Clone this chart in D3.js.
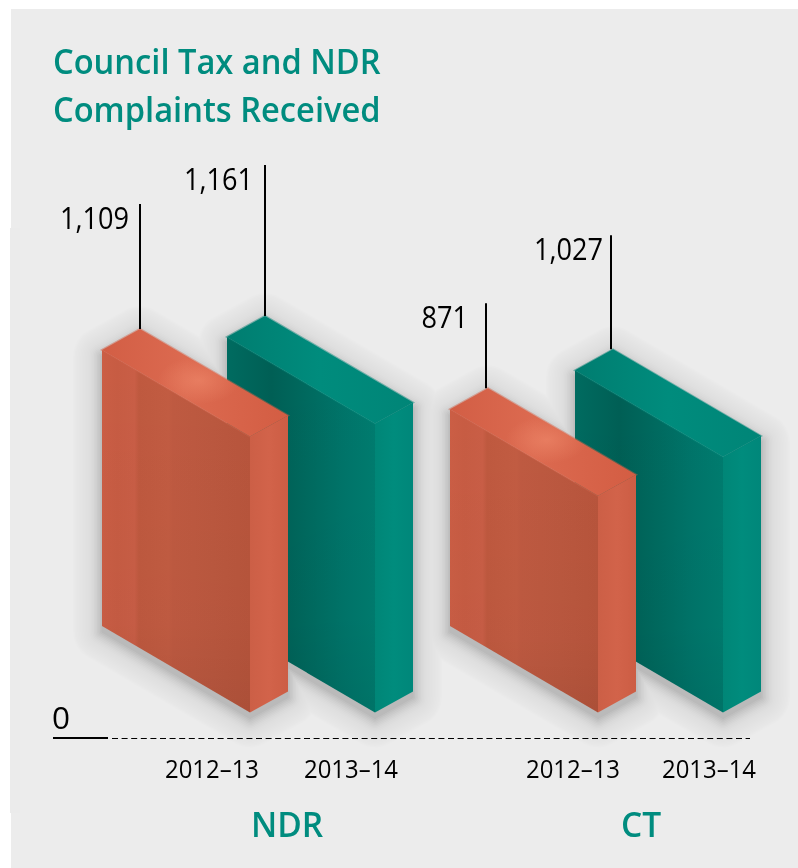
<!DOCTYPE html>
<html>
<head>
<meta charset="utf-8">
<script src="https://cdn.jsdelivr.net/npm/d3@7"></script>
<style>
  html, body { margin: 0; padding: 0; background: #fff; }
  svg { display: block; }
  text { font-family: "Open Sans", "Noto Sans", sans-serif; }
</style>
</head>
<body>
<div id="chart"></div>
<script>
// data
const groups = ["NDR", "CT"];
const years = ["2012–13", "2013–14"];
const ndrValues = [1109, 1161];
const ctValues = [871, 1027];
const titleLines = ["Council Tax and NDR", "Complaints Received"];
// how far the leader line rises above each block
const ndrLeaders = [125, 151];
const ctLeaders = [85, 114];
// gap between a value label and its leader line
const ndrLabelGaps = [11, 12];
const ctLabelGaps = [18, 8];

const width = 798;
const height = 868;
const grey = "#ececec";
const teal = "#008c7f";

const svg = d3.select("#chart")
  .append("svg")
  .attr("width", width)
  .attr("height", height);

// background panel, the picture has a small step on the left side
svg.append("rect").attr("x", 11).attr("y", 9).attr("width", width - 11).attr("height", height - 9).attr("fill", grey);
svg.append("rect").attr("x", 10).attr("y", 228).attr("width", 10).attr("height", 585).attr("fill", "#ebebeb");

// scales
const y = d3.scaleLinear().domain([0, 1161]).range([0, 289]);
const xGroup = d3.scaleOrdinal().domain(groups).range([250, 598]);
const xYear = d3.scaleOrdinal().domain(years).range([0, 125]);
const apexShift = d3.scaleOrdinal().domain(groups).range([0, -2]);
const tickCentre = d3.scaleOrdinal()
  .domain(["NDR2012–13", "NDR2013–14", "CT2012–13", "CT2013–14"])
  .range([212, 351, 573, 709]);
const fmt = d3.format(",");

// iso offsets of the block, from the front bottom corner
const baseY = 712.5;
const rightDX = 38, rightDY = -21;
const leftDX = -148, leftDY = -86.5;

// table built from the arrays
const bars = [];
groups.forEach((g, gi) => {
  const vals = gi === 0 ? ndrValues : ctValues;
  const leaders = gi === 0 ? ndrLeaders : ctLeaders;
  const gaps = gi === 0 ? ndrLabelGaps : ctLabelGaps;
  years.forEach((yr, i) => {
    bars.push({ group: g, year: yr, value: vals[i], leader: leaders[i], gap: gaps[i], kind: i === 0 ? "o" : "t" });
  });
});
// back to front so orange sits over teal
const drawOrder = bars.slice().sort((a, b) => d3.ascending(groups.indexOf(a.group), groups.indexOf(b.group)) || d3.descending(a.year, b.year));

// gradients
const defs = svg.append("defs");

function gradient(id, stops, vertical) {
  const g = defs.append("linearGradient").attr("id", id)
    .attr("x1", 0).attr("y1", 0).attr("x2", vertical ? 0 : 1).attr("y2", vertical ? 1 : 0);
  stops.forEach(s => g.append("stop").attr("offset", s[0]).attr("stop-color", s[1]).attr("stop-opacity", s[2] === undefined ? 1 : s[2]));
}

gradient("o-left", [[0, "#cb5e45"], [0.1, "#c75c43"], [0.22, "#c95e46"], [0.25, "#bf593f"], [0.45, "#c25c42"], [0.48, "#bf5a41"], [0.75, "#bb583f"], [1, "#b8553c"]]);
gradient("t-left", [[0, "#006b60"], [0.3, "#005f55"], [0.55, "#006a5f"], [0.8, "#00756a"], [1, "#007c6f"]]);
gradient("o-right", [[0, "#cc5f46"], [0.5, "#d2634a"], [1, "#cc5d44"]]);
gradient("t-right", [[0, "#008677"], [0.5, "#008c7d"], [1, "#00877a"]]);
gradient("o-top", [[0, "#d25e45"], [0.45, "#dc6a50"], [1, "#d35d43"]]);
gradient("t-top", [[0, "#007d70"], [0.5, "#008c7d"], [1, "#008577"]]);
gradient("fade", [[0, "#000", 0], [0.75, "#000", 0.02], [1, "#000", 0.07]], true);

const topGlow = defs.append("radialGradient").attr("id", "o-glow")
  .attr("cx", 0.52).attr("cy", 0.48).attr("r", 0.22);
topGlow.append("stop").attr("offset", 0).attr("stop-color", "#f08a6c").attr("stop-opacity", 0.6);
topGlow.append("stop").attr("offset", 1).attr("stop-color", "#f08a6c").attr("stop-opacity", 0);

function pts(list) { return list.map(p => p.join(",")).join(" "); }

function corners(d) {
  const fx = xGroup(d.group) + xYear(d.year);
  const h = y(d.value);
  const front = [fx, baseY];
  const right = [fx + rightDX, baseY + rightDY];
  const left = [fx + leftDX, baseY + leftDY];
  const up = p => [p[0], p[1] - h];
  const apex = [fx + leftDX + rightDX, baseY + leftDY + rightDY - h];
  return { front, right, left, frontT: up(front), rightT: up(right), leftT: up(left), apex, tipX: apex[0] + apexShift(d.group) };
}

function outline(d) {
  const c = corners(d);
  return pts([c.left, c.leftT, c.apex, c.rightT, c.right, c.front]);
}

// soft shadow made of stacked outlines, widest first, it goes under all blocks
// opacity sits on the layer so neighbouring blocks do not add up
const shadowWidths = d3.range(58, 0, -3);
const shadowAlpha = d3.scaleLinear().domain([58, 24, 1]).range([0.005, 0.008, 0.032]);
const shadow = svg.append("g");
shadowWidths.forEach(w => {
  shadow.append("g").attr("opacity", shadowAlpha(w))
    .selectAll("polygon").data(bars).join("polygon")
    .attr("points", outline)
    .attr("transform", "translate(0,6)")
    .attr("fill", "#000").attr("stroke", "#000")
    .attr("stroke-width", w)
    .attr("stroke-linejoin", "round");
});

// blocks
const block = svg.append("g").selectAll("g").data(drawOrder).join("g");

block.append("polygon")
  .attr("points", d => { const c = corners(d); return pts([c.left, c.leftT, c.frontT, c.front]); })
  .attr("fill", d => `url(#${d.kind}-left)`);
block.append("polygon")
  .attr("points", d => { const c = corners(d); return pts([c.left, c.leftT, c.frontT, c.front]); })
  .attr("fill", "url(#fade)");
block.append("polygon")
  .attr("points", d => { const c = corners(d); return pts([c.front, c.frontT, c.rightT, c.right]); })
  .attr("fill", d => `url(#${d.kind}-right)`);
// half transparent stroke on the top face softens the inner edges
block.append("polygon")
  .attr("points", d => { const c = corners(d); return pts([c.leftT, c.apex, c.rightT, c.frontT]); })
  .attr("fill", d => `url(#${d.kind}-top)`)
  .attr("stroke", d => `url(#${d.kind}-top)`)
  .attr("stroke-width", 2)
  .attr("stroke-opacity", 0.45);
block.filter(d => d.kind === "o").append("polygon")
  .attr("points", d => { const c = corners(d); return pts([c.leftT, c.apex, c.rightT, c.frontT]); })
  .attr("fill", "url(#o-glow)");

// the reference face is narrower than any installed font, so squeeze the glyphs
function squeeze(sel, k) {
  sel.each(function () {
    const w = this.getComputedTextLength();
    d3.select(this).attr("textLength", w * k).attr("lengthAdjust", "spacingAndGlyphs");
  });
}

// leader lines and value labels
const leaders = svg.append("g").selectAll("g").data(bars).join("g");
leaders.append("line")
  .attr("x1", d => corners(d).tipX).attr("x2", d => corners(d).tipX)
  .attr("y1", d => corners(d).apex[1]).attr("y2", d => corners(d).apex[1] - d.leader)
  .attr("stroke", "#000").attr("stroke-width", 2);
leaders.append("text")
  .attr("x", d => corners(d).tipX - d.gap)
  .attr("y", d => corners(d).apex[1] - d.leader + 25)
  .attr("text-anchor", "end")
  .attr("font-size", "31.5px")
  .attr("fill", "#000")
  .text(d => fmt(d.value))
  .call(squeeze, 0.86);

// zero line
svg.append("line").attr("x1", 53).attr("x2", 108).attr("y1", 738).attr("y2", 738)
  .attr("stroke", "#000").attr("stroke-width", 2);
svg.append("line").attr("x1", 112).attr("x2", 750).attr("y1", 738.5).attr("y2", 738.5)
  .attr("stroke", "#000").attr("stroke-width", 1).attr("stroke-dasharray", "6,3.6");
svg.append("text").attr("x", 52).attr("y", 729).attr("font-size", "31.5px").attr("fill", "#000").text("0");

// year labels
svg.append("g").selectAll("text").data(bars).join("text")
  .attr("x", d => tickCentre(d.group + d.year))
  .attr("y", 778)
  .attr("text-anchor", "middle")
  .attr("font-size", "26px")
  .attr("fill", "#000")
  .text(d => d.year)
  .call(squeeze, 0.92);

// group labels
svg.append("g").selectAll("text").data(groups).join("text")
  .attr("x", d => d === "NDR" ? 287 : 641)
  .attr("y", 837)
  .attr("text-anchor", "middle")
  .attr("font-size", "33.5px").attr("font-weight", 600)
  .attr("fill", teal)
  .text(d => d)
  .call(squeeze, 1.0);

// title
svg.append("g").selectAll("text").data(titleLines).join("text")
  .attr("x", 53)
  .attr("y", (d, i) => 74 + i * 47.5)
  .attr("font-size", "34px").attr("font-weight", 600)
  .attr("fill", teal)
  .text(d => d)
  .call(squeeze, 0.96);
</script>
</body>
</html>
